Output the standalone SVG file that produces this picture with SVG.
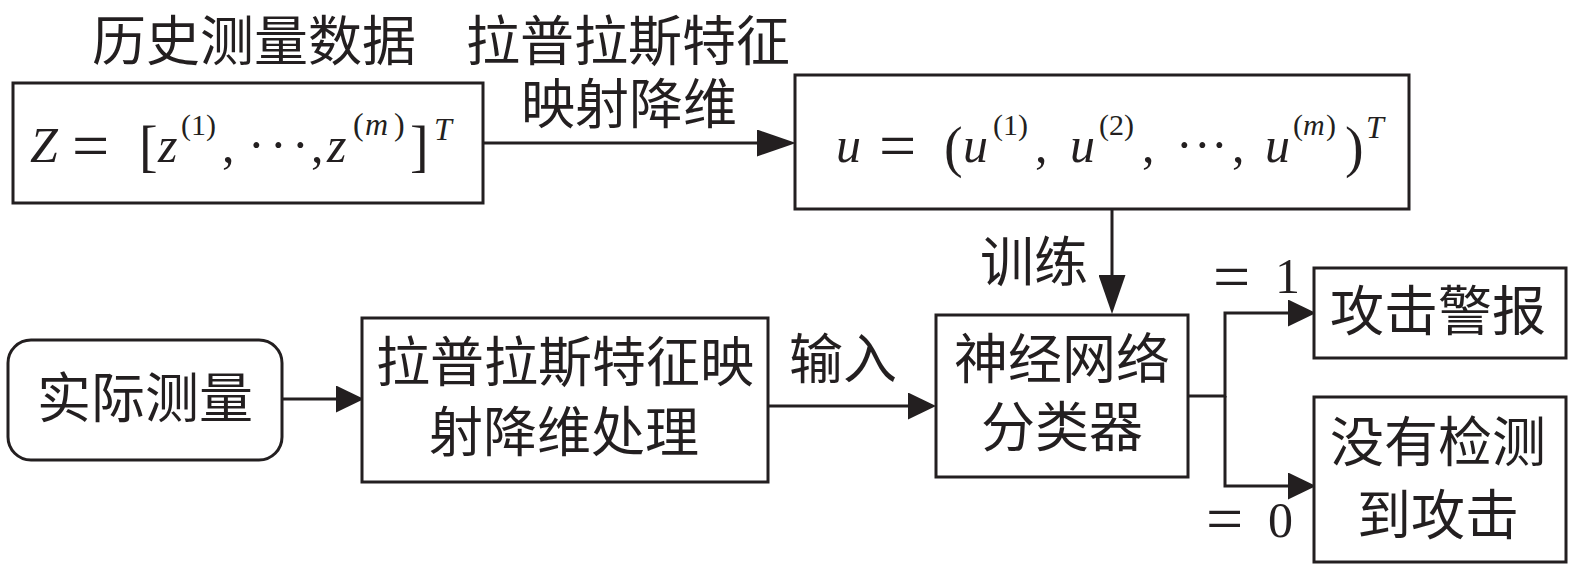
<svg xmlns="http://www.w3.org/2000/svg" width="1575" height="571" viewBox="0 0 1575 571">
<style>
.box{fill:#fff;stroke:#231f20;stroke-width:3}
.cn{font-family:"Noto Sans CJK SC","Noto Sans CJK JP",sans-serif;font-size:54px;fill:#231f20;text-anchor:middle}
.m{font-family:"Liberation Serif",serif;font-size:50px;fill:#231f20}
.i{font-style:italic}
.eq{font-size:66px}
.br{font-size:56px}
.sup{font-size:30px}
.sup2{font-size:32px}
.line{fill:none;stroke:#231f20;stroke-width:3}
</style>
<defs>
<marker id="aS" viewBox="0 0 28 27" refX="0" refY="13.5" markerWidth="28" markerHeight="27" markerUnits="userSpaceOnUse" orient="auto"><path d="M0,0 L28,13.5 L0,27 z" fill="#231f20"/></marker>
<marker id="aL" viewBox="0 0 39 27" refX="0" refY="13.5" markerWidth="39" markerHeight="27" markerUnits="userSpaceOnUse" orient="auto"><path d="M0,0 L39,13.5 L0,27 z" fill="#231f20"/></marker>
</defs>
<rect width="1575" height="571" fill="#fff"/>

<g id="connectors">
<path class="line" d="M483,143 H757" marker-end="url(#aL)"/>
<path class="line" d="M1112,209 V275" marker-end="url(#aL)"/>
<path class="line" d="M282,399 H336" marker-end="url(#aS)"/>
<path class="line" d="M768,406 H908" marker-end="url(#aS)"/>
<path class="line" d="M1188,396 H1225 V313 H1288" marker-end="url(#aS)"/>
<path class="line" d="M1225,396 V486 H1288" marker-end="url(#aS)"/>
</g>

<g id="node-Z">
<rect class="box" x="13" y="83" width="470" height="120"/>
<text class="m"><tspan class="i" x="30" y="162">Z</tspan><tspan class="eq" x="72" y="168">=</tspan><tspan class="br" x="139" y="165">[</tspan><tspan class="i" x="158" y="162">z</tspan><tspan class="sup" x="181" y="135">(1)</tspan><tspan x="222" y="162">,</tspan><tspan x="248 270 292" y="162">···</tspan><tspan x="311" y="162">,</tspan><tspan class="i" x="327" y="162">z</tspan><tspan class="sup2" x="353" y="135">(</tspan><tspan class="sup2 i" x="365" y="135">m</tspan><tspan class="sup2" x="394" y="135">)</tspan><tspan class="br" x="410" y="165">]</tspan><tspan class="sup2 i" x="434" y="140">T</tspan></text>
</g>

<g id="node-u">
<rect class="box" x="795" y="75" width="614" height="134"/>
<text class="m"><tspan class="i" x="836" y="162">u</tspan><tspan class="eq" x="879" y="168">=</tspan><tspan class="br" x="944" y="166">(</tspan><tspan class="i" x="963" y="162">u</tspan><tspan class="sup" x="993" y="135">(1)</tspan><tspan x="1035" y="162">,</tspan><tspan class="i" x="1070" y="162">u</tspan><tspan class="sup" x="1099" y="135">(2)</tspan><tspan x="1142" y="162">,</tspan><tspan x="1176 1194 1211" y="162">···</tspan><tspan x="1232" y="162">,</tspan><tspan class="i" x="1265" y="162">u</tspan><tspan class="sup" x="1293" y="135">(</tspan><tspan class="sup i" x="1303" y="135">m</tspan><tspan class="sup" x="1326" y="135">)</tspan><tspan class="br" x="1345" y="166">)</tspan><tspan class="sup2 i" x="1366" y="138">T</tspan></text>
</g>

<g id="node-actual">
<rect class="box" x="8" y="340" width="274" height="120" rx="23" ry="23"/>
<text class="cn" x="145" y="418">实际测量</text>
</g>

<g id="node-laplacian">
<rect class="box" x="362" y="318" width="406" height="164"/>
<text class="cn"><tspan x="565" y="382">拉普拉斯特征映</tspan><tspan x="564" y="452">射降维处理</tspan></text>
</g>

<g id="node-classifier">
<rect class="box" x="936" y="315" width="252" height="162"/>
<text class="cn"><tspan x="1062" y="379">神经网络</tspan><tspan x="1062" y="447">分类器</tspan></text>
</g>

<g id="node-alarm">
<rect class="box" x="1314" y="268" width="252" height="90"/>
<text class="cn" x="1438" y="331">攻击警报</text>
</g>

<g id="node-noattack">
<rect class="box" x="1314" y="397" width="252" height="165"/>
<text class="cn"><tspan x="1438" y="462">没有检测</tspan><tspan x="1438" y="535">到攻击</tspan></text>
</g>

<g id="labels">
<text class="cn" x="254" y="61">历史测量数据</text>
<text class="cn"><tspan x="628" y="61">拉普拉斯特征</tspan><tspan x="629" y="124">映射降维</tspan></text>
<text class="cn" x="1034" y="282">训练</text>
<text class="cn" x="843" y="379">输入</text>
<text class="m"><tspan class="eq" x="1213" y="299">=</tspan><tspan x="1275" y="293">1</tspan></text>
<text class="m"><tspan class="eq" x="1206" y="541">=</tspan><tspan x="1268" y="537">0</tspan></text>
</g>
</svg>
